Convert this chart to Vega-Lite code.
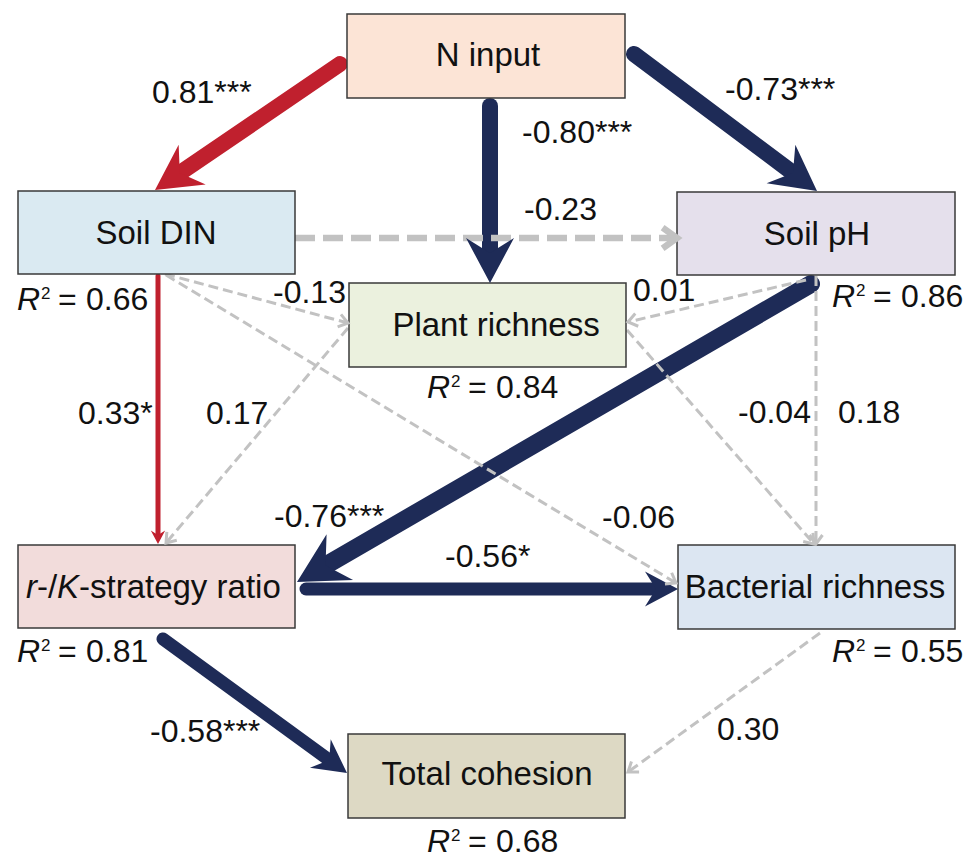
{
  "$schema": "https://vega.github.io/schema/vega-lite/v6.json",
  "width": 971,
  "height": 858,
  "autosize": {"type": "none"},
  "padding": 0,
  "background": "white",
  "config": {"view": {"stroke": null}, "font": "Liberation Sans"},
  "datasets": {
    "nodes": [
      {"name": "N input", "x1": 347, "x2": 625, "y1": 14, "y2": 98},
      {"name": "Soil DIN", "x1": 18, "x2": 295, "y1": 191, "y2": 274},
      {"name": "Soil pH", "x1": 677, "x2": 955, "y1": 192, "y2": 275},
      {"name": "Plant richness", "x1": 349, "x2": 626, "y1": 283, "y2": 367},
      {"name": "r/K", "x1": 18, "x2": 295, "y1": 545, "y2": 628},
      {"name": "Bacterial richness", "x1": 678, "x2": 955, "y1": 545, "y2": 629},
      {"name": "Total cohesion", "x1": 348, "x2": 625, "y1": 734, "y2": 818}
    ],
    "edges": [
      {"from": "N input", "to": "Soil DIN", "kind": "pos", "tier": 4, "x": 340, "y": 64, "ex": 175.7, "ey": 175.9, "tx": 155, "ty": 190, "angle": 235.7, "label": "0.81***", "lx": 152, "ly": 103},
      {"from": "N input", "to": "Plant richness", "kind": "neg", "tier": 4, "x": 490, "y": 106, "ex": 490, "ey": 258, "tx": 490, "ty": 283, "angle": 180, "label": "-0.80***", "lx": 522, "ly": 143},
      {"from": "N input", "to": "Soil pH", "kind": "neg", "tier": 4, "x": 634, "y": 54, "ex": 797, "ey": 176, "tx": 817, "ty": 191, "angle": 126.8, "label": "-0.73***", "lx": 725, "ly": 100},
      {"from": "Soil DIN", "to": "Soil pH", "kind": "ns", "tier": 1, "x": 295, "y": 238, "ex": 677, "ey": 238, "tx": 677, "ty": 238, "angle": 90, "label": "-0.23", "lx": 524, "ly": 220},
      {"from": "Soil DIN", "to": "Plant richness", "kind": "ns", "tier": 0, "x": 165, "y": 274, "ex": 348, "ey": 323, "tx": 348, "ty": 323, "angle": 105, "label": "-0.13", "lx": 273, "ly": 303},
      {"from": "Soil DIN", "to": "Bacterial richness", "kind": "ns", "tier": 0, "x": 166, "y": 275, "ex": 676, "ey": 583, "tx": 676, "ty": 583, "angle": 121.1, "label": "-0.06", "lx": 602, "ly": 528},
      {"from": "Soil DIN", "to": "r/K", "kind": "pos", "tier": 2, "x": 158, "y": 276, "ex": 158, "ey": 537, "tx": 158, "ty": 544, "angle": 180, "label": "0.33*", "lx": 78, "ly": 424},
      {"from": "Plant richness", "to": "r/K", "kind": "ns", "tier": 0, "x": 348, "y": 328, "ex": 166, "ey": 543, "tx": 166, "ty": 543, "angle": 220.25, "label": "0.17", "lx": 206, "ly": 424},
      {"from": "Soil pH", "to": "Plant richness", "kind": "ns", "tier": 0, "x": 806, "y": 280, "ex": 628, "ey": 322, "tx": 628, "ty": 322, "angle": 256.7, "label": "0.01", "lx": 633, "ly": 301},
      {"from": "Soil pH", "to": "r/K", "kind": "neg", "tier": 5, "x": 811, "y": 284, "ex": 320.4, "ey": 568.5, "tx": 297, "ty": 582, "angle": 239.9, "label": "-0.76***", "lx": 274, "ly": 527},
      {"from": "Soil pH", "to": "Bacterial richness", "kind": "ns", "tier": 0, "x": 816, "y": 276, "ex": 816, "ey": 544, "tx": 816, "ty": 544, "angle": 180, "label": "0.18", "lx": 838, "ly": 423},
      {"from": "Plant richness", "to": "Bacterial richness", "kind": "ns", "tier": 0, "x": 627, "y": 330, "ex": 814, "ey": 544, "tx": 814, "ty": 544, "angle": 138.9, "label": "-0.04", "lx": 738, "ly": 423},
      {"from": "r/K", "to": "Bacterial richness", "kind": "neg", "tier": 3, "x": 306, "y": 589, "ex": 660, "ey": 589, "tx": 678, "ty": 589, "angle": 90, "label": "-0.56*", "lx": 445, "ly": 567},
      {"from": "r/K", "to": "Total cohesion", "kind": "neg", "tier": 3, "x": 163, "y": 639, "ex": 332.5, "ey": 762.4, "tx": 347, "ty": 773, "angle": 126.1, "label": "-0.58***", "lx": 150, "ly": 742},
      {"from": "Bacterial richness", "to": "Total cohesion", "kind": "ns", "tier": 0, "x": 820, "y": 633, "ex": 628, "ey": 772, "tx": 628, "ty": 772, "angle": 234.1, "label": "0.30", "lx": 717, "ly": 740}
    ],
    "nodeText": [
      {"t": "N input", "x": 488, "y": 66, "part": "c"},
      {"t": "Soil DIN", "x": 156, "y": 244, "part": "c"},
      {"t": "Soil pH", "x": 817, "y": 245, "part": "c"},
      {"t": "Plant richness", "x": 496, "y": 336, "part": "c"},
      {"t": "Bacterial richness", "x": 815, "y": 598, "part": "c"},
      {"t": "Total cohesion", "x": 487, "y": 785, "part": "c"},
      {"t": "r", "x": 26, "y": 598, "part": "i"},
      {"t": "-/", "x": 37, "y": 598, "part": "l"},
      {"t": "K", "x": 57, "y": 598, "part": "i"},
      {"t": "-strategy ratio", "x": 79, "y": 598, "part": "l"}
    ],
    "r2": [
      {"node": "Soil DIN", "x": 17, "y": 310, "r2": 0.66},
      {"node": "Soil pH", "x": 832, "y": 307, "r2": 0.86},
      {"node": "Plant richness", "x": 427, "y": 398, "r2": 0.84},
      {"node": "r/K", "x": 17, "y": 662, "r2": 0.81},
      {"node": "Bacterial richness", "x": 832, "y": 662, "r2": 0.55},
      {"node": "Total cohesion", "x": 427, "y": 852, "r2": 0.68}
    ]
  },
  "layer": [
    {
      "data": {"name": "edges"},
      "transform": [{"filter": "datum.kind !== 'ns'"}],
      "mark": {"type": "rule", "strokeCap": "round"},
      "encoding": {
        "x": {"field": "x", "type": "quantitative", "scale": {"domain": [0, 971], "nice": false, "zero": false}, "axis": null},
        "y": {"field": "y", "type": "quantitative", "scale": {"domain": [0, 858], "nice": false, "zero": false, "reverse": true}, "axis": null},
        "x2": {"field": "ex"},
        "y2": {"field": "ey"},
        "color": {"field": "kind", "type": "nominal", "scale": {"domain": ["pos", "neg", "ns"], "range": ["#c0202e", "#1e2b57", "#c2c2c2"]}, "legend": null},
        "strokeWidth": {"field": "tier", "type": "quantitative", "scale": {"type": "threshold", "domain": [0.5, 1.5, 2.5, 3.5, 4.5], "range": [3, 6.5, 5, 13, 16, 18]}, "legend": null}
      }
    },
    {
      "data": {"name": "edges"},
      "transform": [{"filter": "datum.kind === 'ns'"}],
      "mark": {"type": "rule", "strokeCap": "butt"},
      "encoding": {
        "x": {"field": "x", "type": "quantitative", "scale": {"domain": [0, 971], "nice": false, "zero": false}, "axis": null},
        "y": {"field": "y", "type": "quantitative", "scale": {"domain": [0, 858], "nice": false, "zero": false, "reverse": true}, "axis": null},
        "x2": {"field": "ex"},
        "y2": {"field": "ey"},
        "color": {"field": "kind", "type": "nominal", "scale": {"domain": ["pos", "neg", "ns"], "range": ["#c0202e", "#1e2b57", "#c2c2c2"]}, "legend": null},
        "strokeWidth": {"field": "tier", "type": "quantitative", "scale": {"type": "threshold", "domain": [0.5, 1.5, 2.5, 3.5, 4.5], "range": [3, 6.5, 5, 13, 16, 18]}, "legend": null},
        "strokeDash": {"field": "tier", "type": "nominal", "scale": {"domain": [0, 1], "range": [[10, 5], [20, 8]]}, "legend": null}
      }
    },
    {
      "data": {"name": "nodes"},
      "mark": {"type": "rect", "stroke": "#3a3a3a", "strokeWidth": 1.5},
      "encoding": {
        "x": {"field": "x1", "type": "quantitative", "scale": {"domain": [0, 971], "nice": false, "zero": false}, "axis": null},
        "x2": {"field": "x2"},
        "y": {"field": "y1", "type": "quantitative", "scale": {"domain": [0, 858], "nice": false, "zero": false, "reverse": true}, "axis": null},
        "y2": {"field": "y2"},
        "fill": {"field": "name", "type": "nominal", "scale": {"domain": ["N input", "Soil DIN", "Soil pH", "Plant richness", "r/K", "Bacterial richness", "Total cohesion"], "range": ["#fce4d6", "#daeaf2", "#e5e0ec", "#ebf1de", "#f2dcdb", "#dce6f2", "#ddd9c4"]}, "legend": null}
      }
    },
    {
      "data": {"name": "edges"},
      "transform": [{"filter": "datum.kind !== 'ns'"}],
      "mark": {"type": "point", "shape": "M0,0 L1.6,3 L0,2 L-1.6,3 Z", "filled": true, "opacity": 1, "strokeWidth": 0},
      "encoding": {
        "x": {"field": "tx", "type": "quantitative", "scale": {"domain": [0, 971], "nice": false, "zero": false}, "axis": null},
        "y": {"field": "ty", "type": "quantitative", "scale": {"domain": [0, 858], "nice": false, "zero": false, "reverse": true}, "axis": null},
        "angle": {"field": "angle", "type": "quantitative", "scale": null},
        "size": {"field": "tier", "type": "quantitative", "scale": {"type": "threshold", "domain": [0.5, 1.5, 2.5, 3.5, 4.5], "range": [100, 256, 81, 484, 900, 1089]}, "legend": null},
        "color": {"field": "kind", "type": "nominal", "scale": {"domain": ["pos", "neg", "ns"], "range": ["#c0202e", "#1e2b57", "#c2c2c2"]}, "legend": null}
      }
    },
    {
      "data": {"name": "edges"},
      "transform": [{"filter": "datum.kind === 'ns'"}],
      "mark": {"type": "point", "shape": "M-1.3,1.8 L0,0 L1.3,1.8", "filled": false, "opacity": 1},
      "encoding": {
        "x": {"field": "tx", "type": "quantitative", "scale": {"domain": [0, 971], "nice": false, "zero": false}, "axis": null},
        "y": {"field": "ty", "type": "quantitative", "scale": {"domain": [0, 858], "nice": false, "zero": false, "reverse": true}, "axis": null},
        "angle": {"field": "angle", "type": "quantitative", "scale": null},
        "size": {"field": "tier", "type": "quantitative", "scale": {"type": "threshold", "domain": [0.5, 1.5, 2.5, 3.5, 4.5], "range": [100, 256, 81, 484, 900, 1089]}, "legend": null},
        "strokeWidth": {"field": "tier", "type": "quantitative", "scale": {"type": "threshold", "domain": [0.5, 1.5, 2.5, 3.5, 4.5], "range": [3, 6.5, 5, 13, 16, 18]}, "legend": null},
        "color": {"field": "kind", "type": "nominal", "scale": {"domain": ["pos", "neg", "ns"], "range": ["#c0202e", "#1e2b57", "#c2c2c2"]}, "legend": null}
      }
    },
    {
      "data": {"name": "edges"},
      "mark": {"type": "text", "align": "left", "baseline": "alphabetic", "fontSize": 32, "font": "Liberation Sans", "color": "#111111"},
      "encoding": {
        "x": {"field": "lx", "type": "quantitative", "scale": {"domain": [0, 971], "nice": false, "zero": false}, "axis": null},
        "y": {"field": "ly", "type": "quantitative", "scale": {"domain": [0, 858], "nice": false, "zero": false, "reverse": true}, "axis": null},
        "text": {"field": "label"}
      }
    },
    {
      "data": {"name": "nodeText"},
      "transform": [{"filter": "datum.part === 'c'"}],
      "mark": {"type": "text", "align": "center", "baseline": "alphabetic", "fontSize": 33, "font": "Liberation Sans", "color": "#111111"},
      "encoding": {
        "x": {"field": "x", "type": "quantitative", "scale": {"domain": [0, 971], "nice": false, "zero": false}, "axis": null},
        "y": {"field": "y", "type": "quantitative", "scale": {"domain": [0, 858], "nice": false, "zero": false, "reverse": true}, "axis": null},
        "text": {"field": "t"}
      }
    },
    {
      "data": {"name": "nodeText"},
      "transform": [{"filter": "datum.part === 'l'"}],
      "mark": {"type": "text", "align": "left", "baseline": "alphabetic", "fontSize": 33, "font": "Liberation Sans", "color": "#111111"},
      "encoding": {
        "x": {"field": "x", "type": "quantitative", "scale": {"domain": [0, 971], "nice": false, "zero": false}, "axis": null},
        "y": {"field": "y", "type": "quantitative", "scale": {"domain": [0, 858], "nice": false, "zero": false, "reverse": true}, "axis": null},
        "text": {"field": "t"}
      }
    },
    {
      "data": {"name": "nodeText"},
      "transform": [{"filter": "datum.part === 'i'"}],
      "mark": {"type": "text", "align": "left", "baseline": "alphabetic", "fontSize": 33, "fontStyle": "italic", "font": "Liberation Sans", "color": "#111111"},
      "encoding": {
        "x": {"field": "x", "type": "quantitative", "scale": {"domain": [0, 971], "nice": false, "zero": false}, "axis": null},
        "y": {"field": "y", "type": "quantitative", "scale": {"domain": [0, 858], "nice": false, "zero": false, "reverse": true}, "axis": null},
        "text": {"field": "t"}
      }
    },
    {
      "data": {"name": "r2"},
      "mark": {"type": "text", "align": "left", "baseline": "alphabetic", "fontSize": 32, "fontStyle": "italic", "font": "Liberation Sans", "color": "#111111"},
      "encoding": {
        "x": {"field": "x", "type": "quantitative", "scale": {"domain": [0, 971], "nice": false, "zero": false}, "axis": null},
        "y": {"field": "y", "type": "quantitative", "scale": {"domain": [0, 858], "nice": false, "zero": false, "reverse": true}, "axis": null},
        "text": {"value": "R"}
      }
    },
    {
      "data": {"name": "r2"},
      "mark": {"type": "text", "align": "left", "baseline": "alphabetic", "fontSize": 17, "dx": 24, "dy": -11, "font": "Liberation Sans", "color": "#111111"},
      "encoding": {
        "x": {"field": "x", "type": "quantitative", "scale": {"domain": [0, 971], "nice": false, "zero": false}, "axis": null},
        "y": {"field": "y", "type": "quantitative", "scale": {"domain": [0, 858], "nice": false, "zero": false, "reverse": true}, "axis": null},
        "text": {"value": "2"}
      }
    },
    {
      "data": {"name": "r2"},
      "mark": {"type": "text", "align": "left", "baseline": "alphabetic", "fontSize": 32, "dx": 41, "font": "Liberation Sans", "color": "#111111"},
      "encoding": {
        "x": {"field": "x", "type": "quantitative", "scale": {"domain": [0, 971], "nice": false, "zero": false}, "axis": null},
        "y": {"field": "y", "type": "quantitative", "scale": {"domain": [0, 858], "nice": false, "zero": false, "reverse": true}, "axis": null},
        "text": {"value": "="}
      }
    },
    {
      "data": {"name": "r2"},
      "mark": {"type": "text", "align": "left", "baseline": "alphabetic", "fontSize": 32, "dx": 69, "font": "Liberation Sans", "color": "#111111"},
      "encoding": {
        "x": {"field": "x", "type": "quantitative", "scale": {"domain": [0, 971], "nice": false, "zero": false}, "axis": null},
        "y": {"field": "y", "type": "quantitative", "scale": {"domain": [0, 858], "nice": false, "zero": false, "reverse": true}, "axis": null},
        "text": {"field": "r2", "type": "quantitative", "format": ".2f"}
      }
    }
  ],
  "resolve": {"scale": {"strokeWidth": "shared", "size": "shared"}}
}
